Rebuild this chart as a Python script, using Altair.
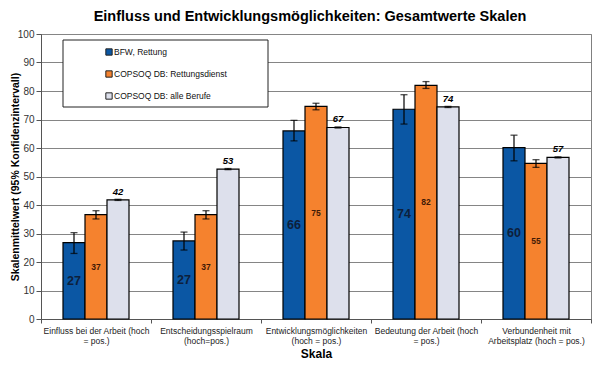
import altair as alt
import pandas as pd

categories = [
    "Einfluss bei der Arbeit (hoch\n= pos.)",
    "Entscheidungsspielraum\n(hoch=pos.)",
    "Entwicklungsmöglichkeiten\n(hoch = pos.)",
    "Bedeutung der Arbeit (hoch\n= pos.)",
    "Verbundenheit mit\nArbeitsplatz (hoch = pos.)",
]
series = ["BFW, Rettung", "COPSOQ DB: Rettungsdienst", "COPSOQ DB: alle Berufe"]

bfw_mean = [26.8, 27.4, 66.0, 73.6, 60.1]
bfw_low = [23.0, 24.2, 62.5, 68.4, 55.5]
bfw_high = [30.3, 30.5, 69.7, 78.7, 64.5]

rd_mean = [36.6, 36.6, 74.6, 82.0, 54.6]
rd_low = [35.1, 35.1, 73.4, 80.9, 53.2]
rd_high = [38.0, 38.0, 75.7, 83.3, 55.9]

all_mean = [41.8, 52.6, 67.2, 74.4, 56.7]
all_low = [41.6, 52.4, 67.0, 74.2, 56.5]
all_high = [42.0, 52.8, 67.4, 74.6, 56.9]

y_ticks = [0, 10, 20, 30, 40, 50, 60, 70, 80, 90, 100]

colors = ["#0B57A4", "#F5822E", "#DDE0EC"]
label_colors = ["#0d1f3c", "#3f1a06", "#000000"]
FONT = "Liberation Sans"

rows = []
for s, means, lows, highs in zip(
    series,
    [bfw_mean, rd_mean, all_mean],
    [bfw_low, rd_low, all_low],
    [bfw_high, rd_high, all_high],
):
    for c, v, lo, hi in zip(categories, means, lows, highs):
        rows.append({"cat": c, "series": s, "value": v, "lo": lo, "hi": hi})
df = pd.DataFrame(rows)

color_scale = alt.Scale(domain=series, range=colors)

x_enc = alt.X(
    "cat:N",
    sort=categories,
    scale=alt.Scale(domain=categories, paddingInner=0, paddingOuter=0),
    title="Skala",
    axis=alt.Axis(
        labelAngle=0,
        labelExpr="split(datum.label, '\\n')",
        tickBand="extent",
        labelOverlap=False,
        titleY=38,
        titleBaseline="alphabetic",
    ),
)
xo_enc = alt.XOffset(
    "series:N",
    scale=alt.Scale(domain=series, paddingInner=0, paddingOuter=1),
)
y_title = "Skalenmittelwert (95% Konfidenzintervall)"
y_scale = alt.Scale(domain=[0, 100], nice=False)
y_axis = alt.Axis(
    values=y_ticks,
    titleX=-26,
    titleY=142.5,
    titleBaseline="middle",
    titleAlign="center",
    titleAngle=270,
)


def yq(field):
    return alt.Y(field, scale=y_scale, title=y_title, axis=y_axis)


base = alt.Chart(df)

bars = base.mark_bar(stroke="black", strokeWidth=1.2).encode(
    x=x_enc,
    xOffset=xo_enc,
    y=yq("value:Q"),
    color=alt.Color("series:N", scale=color_scale, legend=None),
)

rules = base.mark_rule(color="black", strokeWidth=1.2).encode(
    x=x_enc,
    xOffset=xo_enc,
    y=yq("lo:Q"),
    y2="hi:Q",
)

caps = base.transform_fold(["lo", "hi"], as_=["end", "ev"]).mark_tick(
    color="black", size=7, thickness=1.3
).encode(
    x=x_enc,
    xOffset=xo_enc,
    y=yq("ev:Q"),
)

t_blue = base.transform_filter(alt.datum.series == series[0]).transform_calculate(
    half="datum.value / 2"
).mark_text(font=FONT, fontSize=12.5, fontWeight="bold", color=label_colors[0]).encode(
    x=x_enc,
    xOffset=xo_enc,
    y=yq("half:Q"),
    text=alt.Text("value:Q", format=".0f"),
)

t_orange = base.transform_filter(alt.datum.series == series[1]).transform_calculate(
    half="datum.value / 2"
).mark_text(font=FONT, fontSize=8.5, fontWeight="bold", color=label_colors[1]).encode(
    x=x_enc,
    xOffset=xo_enc,
    y=yq("half:Q"),
    text=alt.Text("value:Q", format=".0f"),
)

t_gray = base.transform_filter(alt.datum.series == series[2]).mark_text(
    font=FONT, fontSize=9.5, fontWeight="bold", fontStyle="italic",
    color=label_colors[2], baseline="bottom", dy=-3,
).encode(
    x=x_enc,
    xOffset=xo_enc,
    y=yq("value:Q"),
    text=alt.Text("value:Q", format=".0f"),
)

# legend box drawn inside the plot
legend_df = pd.DataFrame({"series": series})
box = alt.Chart(pd.DataFrame({"k": [0]})).mark_rect(
    fill="white", stroke="#222", strokeWidth=1
).encode(x=alt.value(22), x2=alt.value(227), y=alt.value(6), y2=alt.value(73))

legend_layers = [box]
for i, s in enumerate(series):
    ypix = 18 + 22 * i
    sub = alt.Chart(legend_df).transform_filter(alt.datum.series == s)
    legend_layers.append(
        sub.mark_square(size=40, stroke="#222", strokeWidth=1, opacity=1).encode(
            x=alt.value(68),
            y=alt.value(ypix),
            color=alt.Color("series:N", scale=color_scale, legend=None),
        )
    )
    legend_layers.append(
        sub.mark_text(align="left", font=FONT, fontSize=8.5, color="#111").encode(
            x=alt.value(73), y=alt.value(ypix), text="series:N"
        )
    )

chart = (
    alt.layer(bars, rules, caps, t_blue, t_orange, t_gray, *legend_layers)
    .properties(
        width=550,
        height=285,
        autosize=alt.AutoSizeParams(type="none"),
        padding={"left": 33, "top": 26, "right": 1, "bottom": 44},
        title=alt.TitleParams(
            "Einfluss und Entwicklungsmöglichkeiten: Gesamtwerte Skalen",
            font=FONT,
            fontSize=14.5,
            fontWeight="bold",
            color="#000",
            anchor="middle",
            dx=-6,
            offset=5,
        ),
    )
    .configure_view(stroke="#808080", strokeWidth=1)
    .configure_axis(
        labelFont=FONT,
        titleFont=FONT,
        titleColor="#000",
        titleFontWeight="bold",
        domainColor="#555",
        tickColor="#555",
    )
    .configure_axisY(
        labelFontSize=10,
        labelColor="#333",
        labelPadding=2,
        tickSize=5,
        gridColor="#858585",
        gridWidth=1,
        titleFontSize=10.5,
    )
    .configure_axisX(
        labelFontSize=8.5,
        labelLineHeight=10.5,
        labelColor="#222",
        labelPadding=3,
        tickSize=4,
        grid=False,
        titleFontSize=12,
    )
)

chart.save("out.html", embed_options={"renderer": "svg", "actions": False})
